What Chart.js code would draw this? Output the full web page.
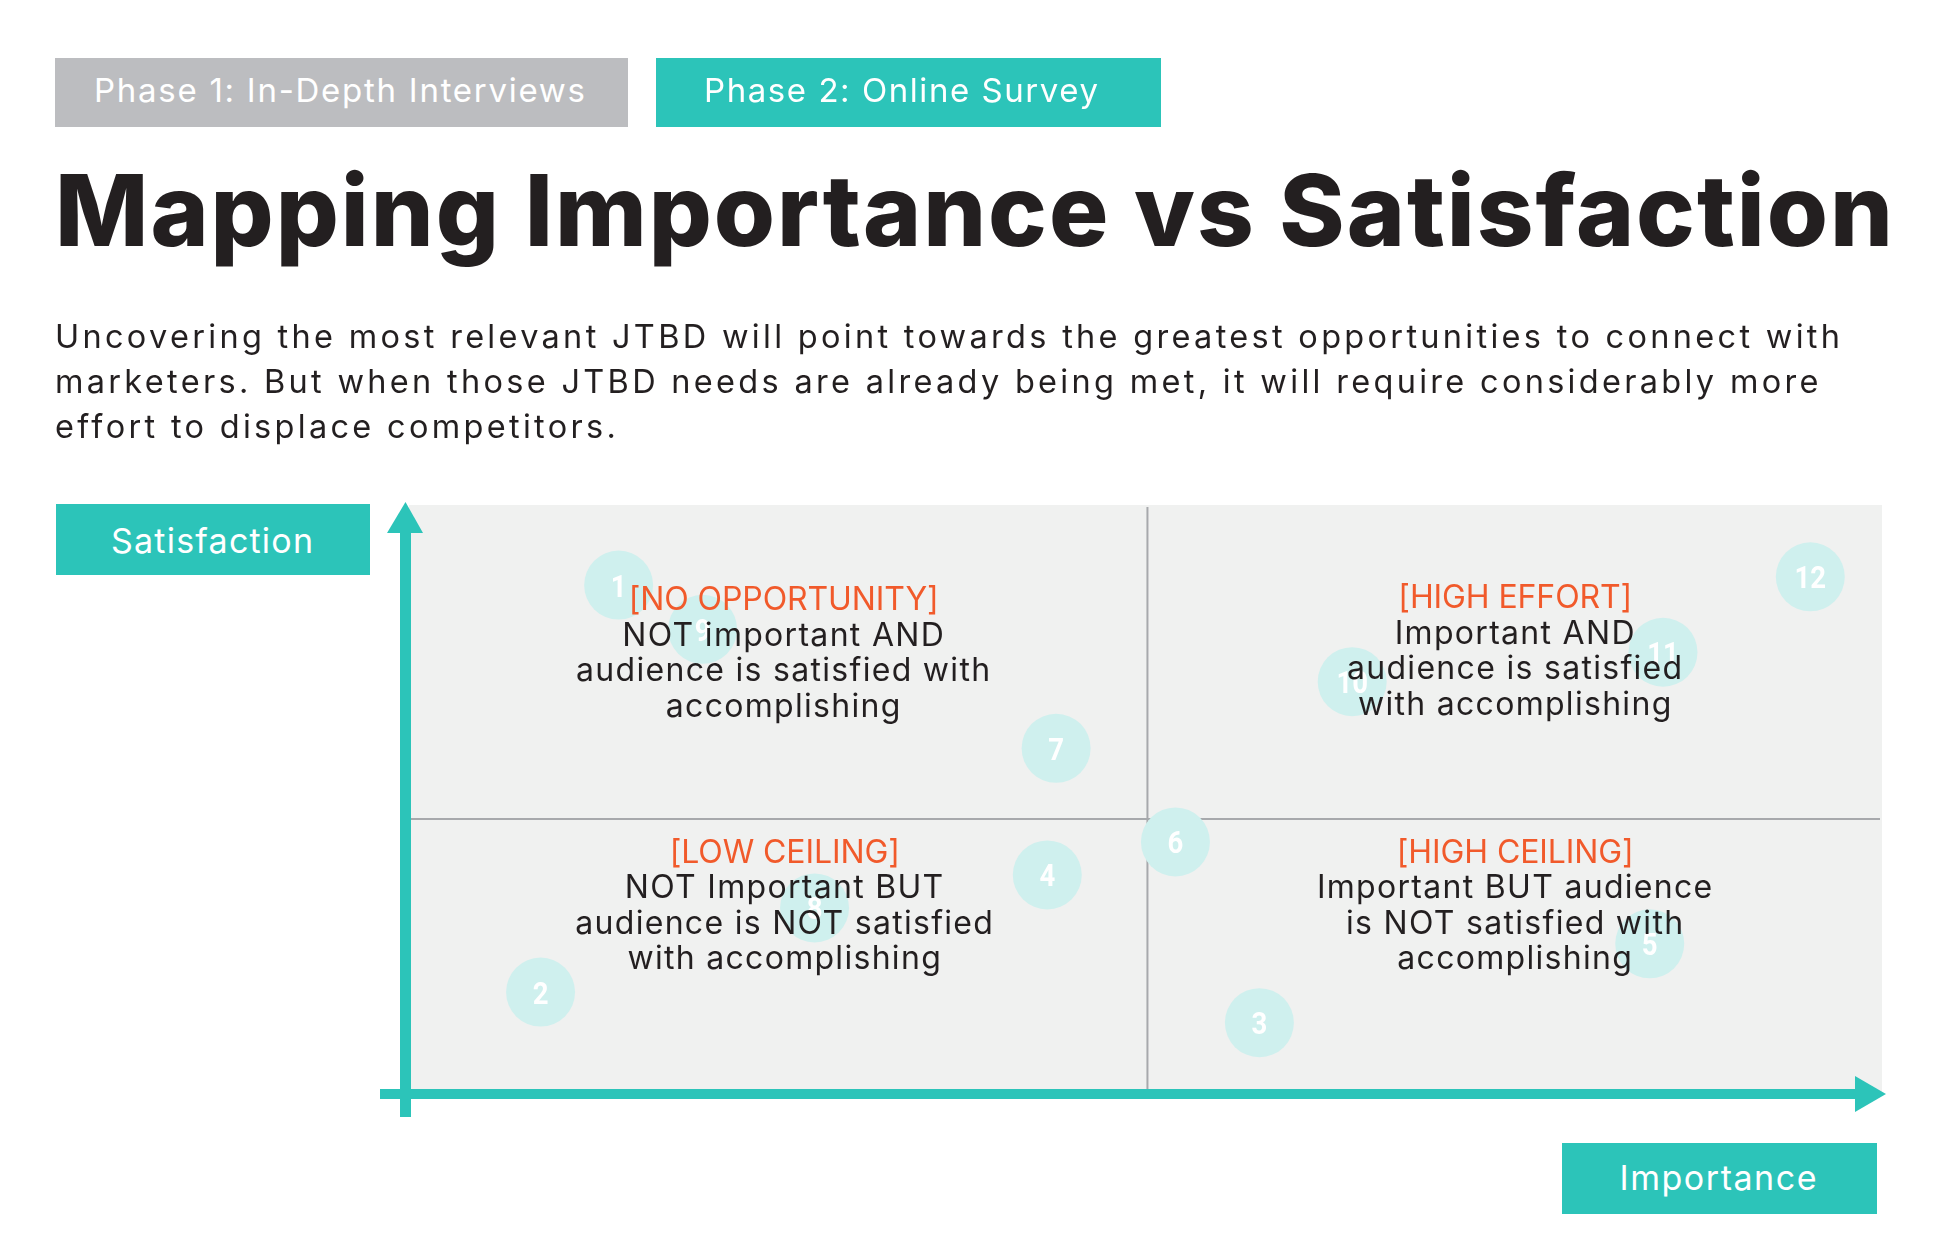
<!DOCTYPE html>
<html>
<head>
<meta charset="utf-8">
<script src="https://cdn.jsdelivr.net/npm/chart.js@4.4.1/dist/chart.umd.min.js"></script>
<style>
html, body { margin: 0; padding: 0; background: #fff; }
#page { position: relative; width: 1951px; height: 1257px; overflow: hidden; font-family: Inter, sans-serif; }
#chart { position: absolute; left: 0; top: 0; }
.blk { position: absolute; }
.txt { position: absolute; white-space: nowrap; }
</style>
</head>
<body>
<div id="page">
  <canvas id="chart" width="1951" height="1257"></canvas>
  <div class="blk" style="left:55px;top:58px;width:573px;height:69px;background:#bcbdc0"></div>
  <div class="blk" style="left:656px;top:58px;width:505px;height:69px;background:#2cc4b9"></div>
  <div class="blk" style="left:56px;top:504px;width:314px;height:71px;background:#2cc4b9"></div>
  <div class="blk" style="left:1562px;top:1143px;width:315px;height:71px;background:#2cc4b9"></div>
</div>
<script>
// bubble ids and their positions (importance = x, satisfaction = y)
const bubble_ids = ['1', '2', '3', '4', '5', '6', '7', '8', '9', '10', '11', '12'];
const importance = [1.43, 0.90, 5.78, 4.34, 8.43, 5.21, 4.40, 2.76, 2.00, 6.41, 8.52, 9.52];
const satisfaction = [8.64, 1.73, 1.21, 3.72, 2.55, 4.28, 5.87, 3.16, 7.89, 7.00, 7.50, 8.78];

const importance_range = [0, 10];
const satisfaction_range = [0, 10];
const importance_split = 5.02;
const satisfaction_split = 4.67;

// quadrants: top-left, top-right, bottom-left, bottom-right
const quadrant_titles = ['[NO OPPORTUNITY]', '[HIGH EFFORT]', '[LOW CEILING]', '[HIGH CEILING]'];
const quadrant_lines = [
    ['NOT important AND', 'audience is satisfied with', 'accomplishing'],
    ['Important AND', 'audience is satisfied', 'with accomplishing'],
    ['NOT Important BUT', 'audience is NOT satisfied', 'with accomplishing'],
    ['Important BUT audience', 'is NOT satisfied with', 'accomplishing']
];

const teal = '#2cc4b9';
const orange = '#f15a2b';
const dark = '#231f20';

const page = document.getElementById('page');
const mctx = document.createElement('canvas').getContext('2d');

// put a line of html text with its baseline at `base`, stretched to `width`
function place(text, font, color, x, base, width, align, ls) {
    mctx.font = font;
    const m = mctx.measureText(text);
    const A = m.fontBoundingBoxAscent, D = m.fontBoundingBoxDescent;
    if (ls === undefined) ls = (width - m.width) / (text.length - 1);
    const w = m.width + ls * (text.length - 1);
    const el = document.createElement('div');
    el.className = 'txt';
    el.textContent = text;
    el.style.font = font;
    el.style.color = color;
    el.style.lineHeight = (A + D) + 'px';
    el.style.top = (base - A) + 'px';
    el.style.letterSpacing = ls + 'px';
    el.style.left = (align === 'center' ? x - w / 2 : x) + 'px';
    page.appendChild(el);
    return ls;
}

place('Phase 1: In-Depth Interviews', '400 33px Inter', '#fff', 94, 102, 491);
place('Phase 2: Online Survey', '400 33px Inter', '#fff', 704, 102, 394);
place('Mapping Importance vs Satisfaction', '800 99px Inter', dark, 55, 246, 1838);
const sub_ls = place('Uncovering the most relevant JTBD will point towards the greatest opportunities to connect with',
    '400 32.5px Inter', dark, 55, 348, 1785);
place('marketers. But when those JTBD needs are already being met, it will require considerably more',
    '400 32.5px Inter', dark, 55, 393, 0, 'left', sub_ls);
place('effort to displace competitors.', '400 32.5px Inter', dark, 55, 438, 0, 'left', sub_ls);
place('Satisfaction', '400 34px Inter', '#fff', 212, 553, 202, 'center');
place('Importance', '400 34px Inter', '#fff', 1718, 1190, 197, 'center');

const quadrant_plugin = {
    id: 'quadrants',
    beforeDatasetsDraw(chart) {
        const { ctx, chartArea: a, scales: { x, y } } = chart;
        const xm = x.getPixelForValue(importance_split);
        const ym = y.getPixelForValue(satisfaction_split);
        ctx.save();
        ctx.fillStyle = '#f0f1f0';
        ctx.fillRect(a.left + 1, a.top, a.right - a.left, a.bottom - a.top);

        ctx.strokeStyle = '#a7a9ac';
        ctx.lineWidth = 2;
        ctx.beginPath();
        ctx.moveTo(xm, a.top + 2);
        ctx.lineTo(xm, a.bottom);
        ctx.moveTo(a.left - 4, ym);
        ctx.lineTo(a.right - 1, ym);
        ctx.stroke();

        // axis arrows
        ctx.fillStyle = teal;
        ctx.fillRect(a.left - 28, a.bottom - 5, (a.right - 26) - (a.left - 28), 10);
        ctx.beginPath();
        ctx.moveTo(a.right - 26, a.bottom - 18);
        ctx.lineTo(a.right + 5, a.bottom);
        ctx.lineTo(a.right - 26, a.bottom + 18);
        ctx.closePath();
        ctx.fill();

        ctx.fillRect(a.left - 8, a.top + 27, 11, (a.bottom + 23) - (a.top + 27));
        ctx.beginPath();
        ctx.moveTo(a.left - 21, a.top + 28);
        ctx.lineTo(a.left - 2.5, a.top - 3);
        ctx.lineTo(a.left + 15, a.top + 28);
        ctx.closePath();
        ctx.fill();
        ctx.restore();
    },
    afterDatasetsDraw(chart) {
        const { ctx, chartArea: a, scales: { x, y } } = chart;
        const xm = x.getPixelForValue(importance_split);
        const ym = y.getPixelForValue(satisfaction_split);
        ctx.save();

        // bubble numbers, narrow bold digits
        ctx.fillStyle = '#fff';
        ctx.font = 'bold 32px Roboto';
        ctx.textAlign = 'center';
        ctx.textBaseline = 'alphabetic';
        chart.getDatasetMeta(0).data.forEach((pt, i) => {
            ctx.save();
            ctx.translate(pt.x, pt.y + 11.5);
            ctx.scale(0.86, 1);
            ctx.fillText(bubble_ids[i], 0, 0);
            ctx.restore();
        });

        // quadrant captions
        ctx.font = '400 32px Inter';
        const body_ls = (414 - ctx.measureText('audience is satisfied with').width) / 25;
        const head_ls = (310 - ctx.measureText('[NO OPPORTUNITY]').width) / 15;
        const spots = [
            [(a.left + xm) / 2 + 6, a.top + 105],
            [(xm + a.right) / 2 + 1, a.top + 103],
            [(a.left + xm) / 2 + 7, ym + 44],
            [(xm + a.right) / 2 + 1, ym + 44]
        ];
        spots.forEach(([cx, b], q) => {
            ctx.letterSpacing = head_ls + 'px';
            ctx.fillStyle = orange;
            ctx.fillText(quadrant_titles[q], cx, b);
            ctx.letterSpacing = body_ls + 'px';
            ctx.fillStyle = dark;
            quadrant_lines[q].forEach((line, j) => {
                ctx.fillText(line, cx, b + 35.5 * (j + 1));
            });
        });
        ctx.restore();
    }
};

const ctx = document.getElementById('chart').getContext('2d');
const chart = new Chart(ctx, {
    type: 'bubble',
    data: {
        datasets: [{
            data: importance.map((v, i) => ({ x: v, y: satisfaction[i] })),
            backgroundColor: '#cff0ee',
            borderWidth: 0,
            radius: 34.5,
            hoverRadius: 0,
            clip: false
        }]
    },
    options: {
        responsive: false,
        animation: false,
        events: [],
        layout: { padding: { left: 408, right: 70, top: 505, bottom: 163 } },
        plugins: { legend: { display: false }, tooltip: { enabled: false } },
        scales: {
            x: { type: 'linear', min: importance_range[0], max: importance_range[1], display: false },
            y: { type: 'linear', min: satisfaction_range[0], max: satisfaction_range[1], display: false }
        }
    },
    plugins: [quadrant_plugin]
});
</script>
</body>
</html>
